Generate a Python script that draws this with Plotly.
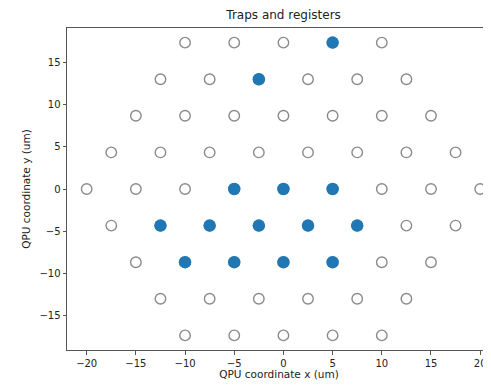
import plotly.graph_objects as go

# Trap positions (um) of the triangular QPU layout, row by row
trap_x = [-10, -5, 0, 5, 10,
          -12.5, -7.5, -2.5, 2.5, 7.5, 12.5,
          -15, -10, -5, 0, 5, 10, 15,
          -17.5, -12.5, -7.5, -2.5, 2.5, 7.5, 12.5, 17.5,
          -20, -15, -10, -5, 0, 5, 10, 15, 20,
          -17.5, -12.5, -7.5, -2.5, 2.5, 7.5, 12.5, 17.5,
          -15, -10, -5, 0, 5, 10, 15,
          -12.5, -7.5, -2.5, 2.5, 7.5, 12.5,
          -10, -5, 0, 5, 10]
trap_y = [17.32] * 5 + [12.99] * 6 + [8.66] * 7 + [4.33] * 8 + [0.0] * 9 + \
         [-4.33] * 8 + [-8.66] * 7 + [-12.99] * 6 + [-17.32] * 5

# Occupied register positions (um)
reg_x = [5, -2.5, -5, 0, 5, -12.5, -7.5, -2.5, 2.5, 7.5, -10, -5, 0, 5]
reg_y = [17.32, 12.99, 0.0, 0.0, 0.0, -4.33, -4.33, -4.33, -4.33, -4.33,
         -8.66, -8.66, -8.66, -8.66]

x_ticks = [-20, -15, -10, -5, 0, 5, 10, 15, 20]
y_ticks = [-15, -10, -5, 0, 5, 10, 15]


def fmt(v):
    return ("\u2212" + str(-v)) if v < 0 else str(v)


fig = go.Figure()
fig.add_trace(go.Scatter(
    x=trap_x, y=trap_y, mode="markers", name="traps",
    marker=dict(size=10.5, color="white", line=dict(color="#8a8a8a", width=1.4)),
))
fig.add_trace(go.Scatter(
    x=reg_x, y=reg_y, mode="markers", name="registers",
    marker=dict(size=12.5, color="#1f77b4", line=dict(color="#1f77b4", width=0)),
))

W, H = 483, 380  # page body has an 8px margin
font = "DejaVu Sans, Liberation Sans, sans-serif"
fig.update_layout(
    width=W, height=H,
    margin=dict(l=59, r=0, t=20, b=38),
    paper_bgcolor="white", plot_bgcolor="white",
    showlegend=False,
    font=dict(family=font, size=10, color="#222"),
    title=dict(text="Traps and registers", x=(283.6 - 8) / W,
               xanchor="center", y=1 - 7 / H, yanchor="middle",
               font=dict(family=font, size=12, color="#222")),
    xaxis=dict(
        range=[-22.0, 21.1], tickvals=x_ticks, ticktext=[fmt(v) for v in x_ticks],
        showgrid=False, zeroline=False, showline=True, linecolor="#555", linewidth=1,
        mirror=True, ticks="outside", ticklen=3.5, tickcolor="#555", automargin=False,
        title=dict(text="QPU coordinate x (um)", standoff=2, font=dict(size=10.5)),
    ),
    yaxis=dict(
        range=[-19.05, 19.05], tickvals=y_ticks, ticktext=[fmt(v) for v in y_ticks],
        showgrid=False, zeroline=False, showline=True, linecolor="#555", linewidth=1,
        mirror=False, ticks="outside", ticklen=3.5, tickcolor="#555", automargin=False,
        title=dict(text="QPU coordinate y (um)", standoff=6, font=dict(size=10.5)),
    ),
)
fig.write_html("out.html")
